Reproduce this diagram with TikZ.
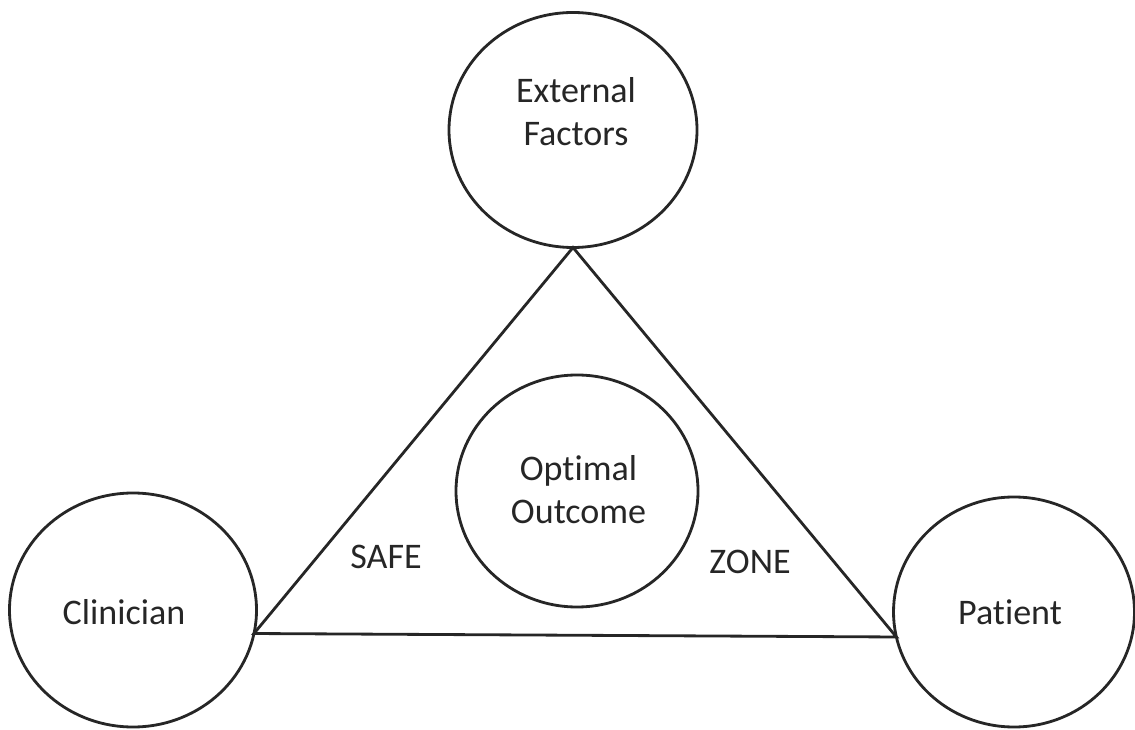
\documentclass[tikz,border=0pt]{standalone}
\usepackage{fontspec}
\setmainfont{Carlito}[Ligatures=NoCommon]
\usetikzlibrary{shapes.geometric}

\begin{document}
\begin{tikzpicture}[zone/.style={
           ellipse,
           draw=black!85,
           line width=1.6pt,
           inner sep=0pt,
           outer sep=0pt},
         caption/.style={
           align=center,
           font=\fontsize{20.5}{24.5}\selectfont,
           text=black!85},
         side/.style={
           line width=1.6pt,
           draw=black!85}]

  \useasboundingbox (0,0) rectangle (22.7,14.58);

  % the four rings
  \path (11.46,11.98) node(ext) [zone,minimum width=4.96cm,minimum height=4.70cm] {}
  (11.54,4.76) node(opt) [zone,minimum width=4.84cm,minimum height=4.64cm] {}
  (2.66,2.38) node(clin) [zone,minimum width=4.94cm,minimum height=4.68cm] {}
  (20.28,2.34) node(pat) [zone,minimum width=4.82cm,minimum height=4.60cm] {};

  % texts
  \path (11.52,12.35) node(extt) [caption] {External\\Factors}
  (11.57,4.79) node(optt) [caption] {Optimal\\Outcome}
  (2.48,2.33) node(clint) [caption] {Clinician}
  (20.2,2.33) node(patt) [caption] {Patient}
  (7.72,3.45) node(safe) [caption] {SAFE}
  (15.0,3.35) node(zonet) [caption] {ZONE};

  % the triangle
  \draw[side,line join=miter] (ext.south) -- (clin.-11.7) -- (pat.-168.5) -- cycle;

\end{tikzpicture}
\end{document}
